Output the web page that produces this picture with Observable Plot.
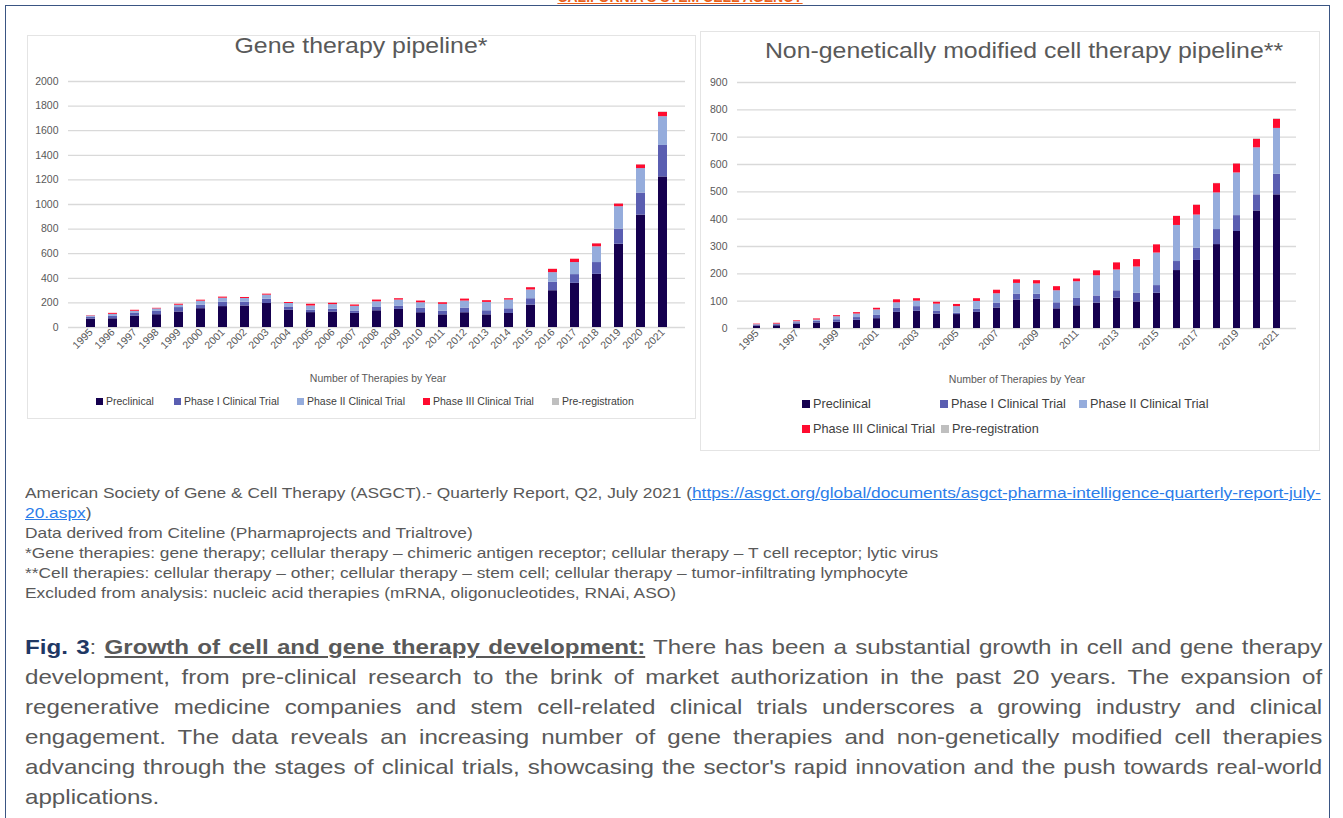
<!DOCTYPE html>
<html>
<head>
<meta charset="utf-8">
<script src="https://cdn.jsdelivr.net/npm/d3@7"></script>
<script src="https://cdn.jsdelivr.net/npm/@observablehq/plot@0.6"></script>
<style>
  body { margin:0; width:1343px; height:818px; position:relative; overflow:hidden; background:#fff; font-family:"Liberation Sans", Arial, sans-serif; }
  .abs { position:absolute; }
  .title { color:#595959; font-size:22px; text-align:center; transform:scaleX(1.13); transform-origin:center top; }
  .axt { color:#595959; font-size:10.5px; text-align:center; }
  .legend { color:#404040; display:flex; align-items:center; white-space:nowrap; }
  .legend span.sw { display:inline-block; margin-right:3px; }
  .card { border:1px solid #e4e4e4; background:#fff; }
  .foot { color:#595959; font-size:15px; line-height:20px; transform:scaleX(1.155); transform-origin:left top; white-space:nowrap; }
  .foot a { color:#2b7de9; text-decoration:underline; }
  .cap { color:#595959; font-size:21px; line-height:30px; transform:scaleX(1.15); transform-origin:left top; width:1128px; }
  .cap div { text-align:justify; text-align-last:justify; white-space:nowrap; }
  .cap div.last { text-align-last:left; }
</style>
</head>
<body>
<script>
const years = [1995,1996,1997,1998,1999,2000,2001,2002,2003,2004,2005,2006,2007,2008,2009,2010,2011,2012,2013,2014,2015,2016,2017,2018,2019,2020,2021];
const stages = ["Preclinical","Phase I Clinical Trial","Phase II Clinical Trial","Phase III Clinical Trial","Pre-registration"];
const stageColors = ["#15004f","#5a5eb1","#95acdc","#ff0b2f","#bfbfbf"];

// Gene therapy pipeline
const genePreclinical = [68,71,93,104,126,153,170,175,195,142,121,126,115,136,147,120,103,120,103,114,182,299,359,432,677,914,1224];
const genePhaseI      = [17,19,25,30,36,28,35,30,35,25,19,22,19,27,27,38,30,38,33,38,52,68,71,96,123,179,256];
const genePhaseII     = [8,17,14,17,19,33,33,31,33,28,35,38,38,46,49,43,55,57,68,71,71,79,98,128,182,199,234];
const genePhaseIII    = [3,8,8,5,8,8,9,8,8,8,14,11,11,14,11,14,13,16,14,11,19,27,27,24,22,30,35];
const genePreReg      = [0,0,0,0,0,0,0,0,0,0,0,0,0,0,0,0,0,0,0,0,1,1,1,1,2,2,3];

// Non-genetically modified cell therapy pipeline
const cellPreclinical = [9,10,16,20,23,30,36,59,63,53,51,59,75,104,107,72,83,93,111,97,129,212,249,307,355,430,489];
const cellPhaseI      = [2,4,5,6,9,10,12,16,17,11,5,11,18,22,18,22,27,26,27,32,28,33,45,55,58,59,75];
const cellPhaseII     = [3,2,4,5,11,13,20,19,20,25,24,29,34,39,38,44,61,74,76,96,119,132,121,134,156,172,168];
const cellPhaseIII    = [2,3,3,4,4,5,6,11,9,7,8,10,13,13,12,15,10,18,26,27,30,33,36,34,33,31,33];
const cellPreReg      = [0,0,0,0,0,0,0,0,0,0,0,0,0,0,0,0,0,0,0,0,0,1,1,1,1,2,2];

const geneTicks = [0,200,400,600,800,1000,1200,1400,1600,1800,2000];
const cellTicks = [0,100,200,300,400,500,600,700,800,900];
const cellYearTicks = years.filter(y => y % 2 === 1);

function tidy(series) {
  const rows = [];
  series.forEach((arr, si) => arr.forEach((v, i) => rows.push({year: years[i], stage: stages[si], value: v})));
  return rows;
}
const geneRows = tidy([genePreclinical, genePhaseI, genePhaseII, genePhaseIII, genePreReg]);
const cellRows = tidy([cellPreclinical, cellPhaseI, cellPhaseII, cellPhaseIII, cellPreReg]);

function add(html, style, cls) {
  const d = document.createElement("div");
  d.className = "abs " + (cls || "");
  Object.assign(d.style, style);
  d.innerHTML = html;
  document.body.appendChild(d);
  return d;
}

// outer frame + clipped header text
add("", {left:"5px", top:"5px", width:"1323px", height:"900px", border:"1.5px solid #3a5583"});
add('<div style="position:absolute;top:-11px;left:0;width:100%;text-align:center;color:#e8601c;font-weight:bold;font-size:14px;text-decoration:underline;">CALIFORNIA\'S STEM CELL AGENCY</div>',
    {left:"480px", top:"0px", width:"400px", height:"5px", overflow:"hidden"});

// cards
add("", {left:"27px", top:"35px", width:"667px", height:"382px"}, "card");
add("", {left:"700px", top:"31px", width:"618px", height:"418px"}, "card");

const font = "'Liberation Sans', Arial, sans-serif";

function chart(rows, opts) {
  return Plot.plot({
    width: opts.width, height: opts.height,
    marginLeft: opts.ml, marginRight: opts.mr, marginTop: opts.mt, marginBottom: opts.mb,
    x: {type: "band", domain: years, paddingInner: opts.pad, paddingOuter: opts.pad / 2},
    y: {domain: opts.ydomain},
    color: {domain: stages, range: stageColors},
    style: {fontFamily: font, fontSize: "10.5px", color: "#595959", background: "transparent", overflow: "visible"},
    marks: [
      Plot.gridY(opts.yticks, {stroke: "#d9d9d9", strokeOpacity: 1, strokeWidth: 1.3}),
      Plot.barY(rows, {x: "year", y: "value", fill: "stage"}),
      Plot.axisY(opts.yticks, {tickSize: 0, tickPadding: opts.tp, label: null, fontSize: 10.5, fill: "#595959", tickFormat: d => String(d)}),
      Plot.axisX(opts.xticks, {tickSize: 0, tickPadding: 3, tickRotate: -45, label: null, fontSize: 10.5, fill: "#595959", tickFormat: d => String(d)})
    ]
  });
}

const left = add("", {left:"27px", top:"70px"});
left.appendChild(chart(geneRows, {width:668, height:300, ml:41, mr:10, mt:11, mb:43, pad:0.6, ydomain:[0,2000], yticks:geneTicks, xticks:years, tp:10}));

const right = add("", {left:"700px", top:"70px"});
right.appendChild(chart(cellRows, {width:620, height:300, ml:37, mr:24, mt:12, mb:42, pad:0.64, ydomain:[0,900], yticks:cellTicks, xticks:cellYearTicks, tp:10}));

// titles
add("Gene therapy pipeline*", {left:"27px", top:"33px", width:"668px"}, "title");
add("Non-genetically modified cell therapy pipeline**", {left:"715px", top:"38px", width:"618px"}, "title");

// axis titles
add("Number of Therapies by Year", {left:"178px", top:"372px", width:"400px"}, "axt");
add("Number of Therapies by Year", {left:"817px", top:"373px", width:"400px"}, "axt");

// legends
function item(i, x, y, fs, sw) {
  add(`<span class="sw" style="width:${sw}px;height:${sw}px;background:${stageColors[i]}"></span>${stages[i]}`,
      {left: x + "px", top: y + "px", fontSize: fs + "px"}, "legend");
}
[[0,96],[1,174],[2,297],[3,423],[4,552]].forEach(([i, x]) => item(i, x, 395, 10.5, 7));
[[0,802],[1,940],[2,1079]].forEach(([i, x]) => item(i, x, 397, 12.7, 8));
[[3,802],[4,941]].forEach(([i, x]) => item(i, x, 422, 12.7, 8));

// footnotes
add(`American Society of Gene &amp; Cell Therapy (ASGCT).- Quarterly Report, Q2, July 2021 (<a>https://asgct.org/global/documents/asgct-pharma-intelligence-quarterly-report-july-</a><br>
<a>20.aspx</a>)<br>
Data derived from Citeline (Pharmaprojects and Trialtrove)<br>
*Gene therapies: gene therapy; cellular therapy – chimeric antigen receptor; cellular therapy – T cell receptor; lytic virus<br>
**Cell therapies: cellular therapy – other; cellular therapy – stem cell; cellular therapy – tumor-infiltrating lymphocyte<br>
Excluded from analysis: nucleic acid therapies (mRNA, oligonucleotides, RNAi, ASO)`,
  {left:"25px", top:"483px"}, "foot");

// caption
const capLines = [
  `<b style="color:#1f3864">Fig. 3</b>: <b style="text-decoration:underline">Growth of cell and gene therapy development:</b> There has been a substantial growth in cell and gene therapy`,
  `development, from pre-clinical research to the brink of market authorization in the past 20 years. The expansion of`,
  `regenerative medicine companies and stem cell-related clinical trials underscores a growing industry and clinical`,
  `engagement. The data reveals an increasing number of gene therapies and non-genetically modified cell therapies`,
  `advancing through the stages of clinical trials, showcasing the sector's rapid innovation and the push towards real-world`,
  `applications.`
];
add(capLines.map((l, i) => `<div class="${i === capLines.length - 1 ? "last" : ""}">${l}</div>`).join(""),
  {left:"25px", top:"632px"}, "cap");
</script>
</body>
</html>
